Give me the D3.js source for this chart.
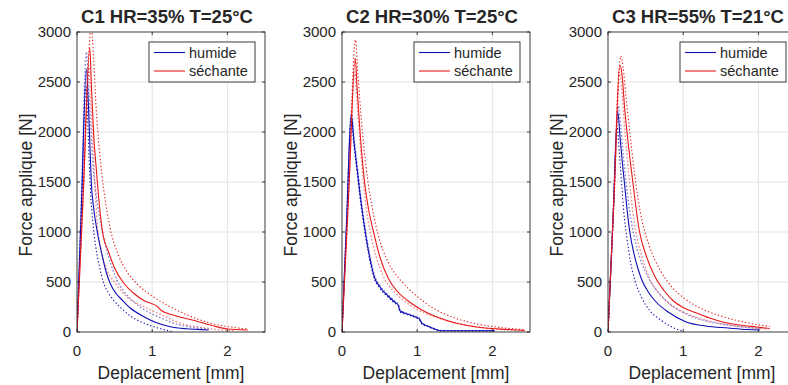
<!DOCTYPE html>
<html>
<head>
<meta charset="utf-8">
<script src="https://cdn.jsdelivr.net/npm/d3@7"></script>
<style>
  body { margin: 0; background: #fff; }
  svg { font-family: "Liberation Sans", Arial, sans-serif; }
  text { fill: #262626; }
</style>
</head>
<body>
<svg width="788" height="385"></svg>
<script>
'use strict';

// panel titles and tick labels
const titles = ['C1 HR=35% T=25°C', 'C2 HR=30% T=25°C', 'C3 HR=55% T=21°C'];
const x_ticks = [0, 1, 2];
const y_ticks = [0, 500, 1000, 1500, 2000, 2500, 3000];
const legend_labels = ['humide', 'séchante'];

// curves: [deplacement mm, force N]
const c1_humide = [[0,0],[0.06,1300],[0.124,2630],[0.15,2300],[0.17,1900],[0.19,1500],[0.22,1250],[0.27,1000],
  [0.33,780],[0.38,620],[0.44,487],[0.52,385],[0.6,320],[0.7,245],[0.89,153],[1.05,95],[1.24,53],[1.45,33],[1.6,26],[1.75,20]];
const c1_humide_hi = [[0,0],[0.06,1400],[0.125,2800],[0.15,2500],[0.18,2100],[0.21,1700],[0.25,1400],[0.3,1150],
  [0.37,900],[0.45,680],[0.53,520],[0.62,410],[0.73,320],[0.9,220],[1.09,150],[1.3,85],[1.51,50],[1.75,30]];
const c1_humide_lo = [[0,0],[0.06,1200],[0.12,2450],[0.14,2150],[0.16,1750],[0.18,1400],[0.21,1100],[0.25,850],
  [0.3,650],[0.35,500],[0.42,390],[0.49,315],[0.6,230],[0.73,150],[0.87,95],[1.02,53],[1.15,25],[1.29,0]];
const c1_sechante = [[0,0],[0.08,1330],[0.17,2840],[0.19,2500],[0.22,2000],[0.26,1600],[0.3,1250],[0.34,1000],
  [0.42,800],[0.5,640],[0.62,490],[0.75,390],[0.9,310],[1.07,253],[1.12,215],[1.3,165],[1.56,115],[1.8,65],[2.0,30],[2.27,20]];
const c1_sechante_hi = [[0,0],[0.095,1600],[0.19,3050],[0.22,2750],[0.25,2300],[0.3,1800],[0.36,1400],[0.44,1040],
  [0.55,770],[0.65,620],[0.8,480],[1.0,360],[1.24,253],[1.5,160],[1.78,87],[2.0,55],[2.27,30]];
const c1_sechante_lo = [[0,0],[0.08,1300],[0.16,2650],[0.18,2350],[0.21,1900],[0.24,1450],[0.27,1080],[0.32,820],
  [0.4,620],[0.51,487],[0.65,360],[0.89,253],[1.1,180],[1.38,87],[1.7,40],[2.1,10]];

const c2_humide = [[0,0],[0.06,1080],[0.123,2170],[0.16,1900],[0.2,1640],[0.24,1380],[0.28,1150],[0.31,1000],
  [0.35,820],[0.39,670],[0.43,550],[0.5,455],[0.62,355],[0.7,300],[0.75,268],[0.77,212],[0.9,172],[1.0,142],[1.03,130],
  [1.06,90],[1.15,55],[1.25,25],[1.3,13],[1.6,12],[2.03,12]];
const c2_humide_hi = [[0,0],[0.06,1100],[0.125,2200],[0.162,1930],[0.202,1670],[0.242,1410],[0.282,1175],[0.312,1025],
  [0.352,840],[0.392,690],[0.432,565],[0.502,468],[0.622,365],[0.702,310],[0.752,275],[0.772,220],[0.902,178],[1.002,147],
  [1.032,135],[1.062,95],[1.152,58],[1.252,28],[1.3,15],[1.6,13],[2.03,13]];
const c2_humide_lo = [[0,0],[0.06,1060],[0.121,2140],[0.158,1870],[0.198,1610],[0.238,1350],[0.278,1125],[0.308,975],
  [0.348,800],[0.388,650],[0.428,535],[0.498,442],[0.618,345],[0.698,290],[0.748,261],[0.768,204],[0.898,166],[0.998,137],
  [1.028,125],[1.058,85],[1.148,52],[1.248,22],[1.3,11],[1.6,11],[2.03,11]];
const c2_sechante = [[0,0],[0.09,1400],[0.176,2737],[0.2,2450],[0.24,2000],[0.3,1500],[0.36,1200],[0.42,1000],
  [0.5,760],[0.62,530],[0.72,420],[0.88,310],[0.99,253],[1.1,205],[1.3,140],[1.52,87],[1.7,60],[1.9,40],[2.2,25],[2.43,15]];
const c2_sechante_hi = [[0,0],[0.09,1500],[0.18,2920],[0.21,2600],[0.26,2100],[0.32,1650],[0.4,1250],[0.5,920],
  [0.6,720],[0.7,590],[0.8,500],[1.0,355],[1.2,245],[1.5,140],[1.8,80],[2.1,45],[2.43,25]];
const c2_sechante_lo = [[0,0],[0.085,1300],[0.17,2600],[0.2,2300],[0.24,1900],[0.29,1450],[0.35,1100],[0.42,850],
  [0.5,650],[0.56,540],[0.7,400],[0.85,300],[1.0,225],[1.2,160],[1.5,95],[1.8,50],[2.1,25],[2.4,12]];

const c3_humide = [[0,0],[0.065,1100],[0.13,2200],[0.16,1950],[0.19,1700],[0.22,1480],[0.25,1250],[0.29,1000],
  [0.34,800],[0.4,630],[0.45,520],[0.54,395],[0.64,300],[0.8,200],[1.04,100],[1.3,60],[1.6,40],[1.85,25],[2.02,20]];
const c3_humide_hi = [[0,0],[0.07,1150],[0.14,2260],[0.17,2050],[0.2,1800],[0.24,1500],[0.29,1200],[0.35,950],
  [0.42,750],[0.5,600],[0.56,510],[0.7,370],[0.85,265],[1.0,195],[1.3,110],[1.6,70],[1.85,45],[2.05,35]];
const c3_humide_lo = [[0,0],[0.06,1000],[0.12,2050],[0.15,1800],[0.18,1500],[0.21,1200],[0.25,950],[0.3,700],
  [0.36,510],[0.45,340],[0.55,220],[0.7,120],[0.85,50],[1.0,5]];
const c3_sechante = [[0,0],[0.08,1350],[0.156,2670],[0.19,2550],[0.22,2250],[0.26,1950],[0.33,1500],[0.42,1000],
  [0.5,780],[0.62,560],[0.75,410],[0.87,310],[1.0,245],[1.16,195],[1.35,140],[1.53,100],[1.75,70],[1.98,50],[2.15,35]];
const c3_sechante_hi = [[0,0],[0.085,1400],[0.17,2760],[0.2,2650],[0.24,2350],[0.29,2000],[0.35,1600],[0.45,1120],
  [0.55,860],[0.7,610],[0.85,450],[1.0,345],[1.2,250],[1.5,160],[1.8,100],[2.15,55]];
const c3_sechante_lo = [[0,0],[0.075,1300],[0.15,2600],[0.18,2450],[0.21,2150],[0.25,1800],[0.3,1400],[0.36,1050],
  [0.45,760],[0.55,540],[0.68,385],[0.8,290],[1.0,200],[1.2,140],[1.5,85],[1.8,50],[2.1,30]];

const panels = [
  {title: titles[0], humide: [c1_humide, c1_humide_hi, c1_humide_lo], sechante: [c1_sechante, c1_sechante_hi, c1_sechante_lo]},
  {title: titles[1], humide: [c2_humide, c2_humide_hi, c2_humide_lo], sechante: [c2_sechante, c2_sechante_hi, c2_sechante_lo]},
  {title: titles[2], humide: [c3_humide, c3_humide_hi, c3_humide_lo], sechante: [c3_sechante, c3_sechante_hi, c3_sechante_lo]}
];

const blue = '#0d0db4';
const red = '#e81818';
const axis_color = '#262626';

const svg = d3.select('svg');
const panel_left = [77, 342, 608];
const plot_w = 188;
const plot_top = 32, plot_bottom = 332;

panels.forEach((p, i) => {
  const x0 = panel_left[i];
  const x_scale = d3.scaleLinear().domain([0, 2.5]).range([x0, x0 + plot_w]);
  const y_scale = d3.scaleLinear().domain([0, 3000]).range([plot_bottom, plot_top]);
  const g = svg.append('g');

  //grid
  g.append('g').selectAll('line').data(x_ticks.slice(1)).enter().append('line')
    .attr('x1', d => x_scale(d)).attr('x2', d => x_scale(d))
    .attr('y1', plot_top).attr('y2', plot_bottom)
    .attr('stroke', '#e3e3e3').attr('stroke-width', 1);
  g.append('g').selectAll('line').data(y_ticks.slice(1, -1)).enter().append('line')
    .attr('x1', x0).attr('x2', x0 + plot_w)
    .attr('y1', d => y_scale(d)).attr('y2', d => y_scale(d))
    .attr('stroke', '#e3e3e3').attr('stroke-width', 1);

  //curves
  const clip_id = 'clip' + i;
  svg.append('clipPath').attr('id', clip_id).append('rect')
    .attr('x', x0).attr('y', plot_top).attr('width', plot_w).attr('height', plot_bottom - plot_top);
  const line = d3.line().x(d => x_scale(d[0])).y(d => y_scale(d[1])).curve(d3.curveMonotoneX);
  const curves = g.append('g').attr('clip-path', `url(#${clip_id})`);
  const draw = (data, color, dash, opacity, width) => {
    curves.append('path').datum(data)
      .attr('d', line)
      .attr('fill', 'none')
      .attr('stroke', color)
      .attr('stroke-width', width)
      .attr('stroke-dasharray', dash)
      .attr('opacity', opacity);
  };
  draw(p.humide[1], blue, '1.6,2', 0.5, 1.4);
  draw(p.humide[2], blue, '1.3,2.2', 1, 1.1);
  draw(p.sechante[1], red, '1.3,2.2', 1, 1.1);
  draw(p.sechante[2], red, '1.6,2', 0.5, 1.4);
  draw(p.humide[0], blue, null, 1, 1.1);
  draw(p.sechante[0], red, null, 1, 1.1);

  //axes, ticks inward on all sides
  const tick_len = 3;
  const ax = g.append('g').attr('stroke', axis_color).attr('stroke-width', 0.9);
  ax.append('rect').attr('x', x0).attr('y', plot_top).attr('width', plot_w).attr('height', plot_bottom - plot_top)
    .attr('fill', 'none');
  x_ticks.forEach(t => {
    ax.append('line').attr('x1', x_scale(t)).attr('x2', x_scale(t)).attr('y1', plot_bottom).attr('y2', plot_bottom - tick_len);
    ax.append('line').attr('x1', x_scale(t)).attr('x2', x_scale(t)).attr('y1', plot_top).attr('y2', plot_top + tick_len);
  });
  y_ticks.forEach(t => {
    ax.append('line').attr('x1', x0).attr('x2', x0 + tick_len).attr('y1', y_scale(t)).attr('y2', y_scale(t));
    ax.append('line').attr('x1', x0 + plot_w).attr('x2', x0 + plot_w - tick_len).attr('y1', y_scale(t)).attr('y2', y_scale(t));
  });

  //tick labels
  g.append('g').attr('font-size', 15).attr('text-anchor', 'middle')
    .selectAll('text').data(x_ticks).enter().append('text')
    .attr('x', d => x_scale(d)).attr('y', plot_bottom + 24).text(d => d);
  g.append('g').attr('font-size', 15).attr('text-anchor', 'end')
    .selectAll('text').data(y_ticks).enter().append('text')
    .attr('x', x0 - 6).attr('y', d => y_scale(d)).attr('dy', '0.35em').text(d => d);

  //titles and axis labels
  g.append('text').attr('x', x0 + plot_w / 2 - 4).attr('y', 23)
    .attr('text-anchor', 'middle').attr('font-size', 18.5).attr('font-weight', 'bold').text(p.title);
  g.append('text').attr('x', x0 + plot_w / 2).attr('y', 379)
    .attr('text-anchor', 'middle').attr('font-size', 17.5).text('Deplacement [mm]');
  g.append('text').attr('transform', `translate(${x0 - 45},${(plot_top + plot_bottom) / 2 + 3}) rotate(-90)`)
    .attr('text-anchor', 'middle').attr('font-size', 17.5).text('Force applique [N]');

  //legend
  const lg = g.append('g').attr('transform', `translate(${x0 + plot_w - 116},42)`);
  lg.append('rect').attr('width', 106).attr('height', 40).attr('fill', '#fff')
    .attr('stroke', axis_color).attr('stroke-width', 0.9);
  [blue, red].forEach((c, k) => {
    const yy = 10.5 + k * 18.5;
    lg.append('line').attr('x1', 5).attr('x2', 36).attr('y1', yy).attr('y2', yy)
      .attr('stroke', c).attr('stroke-width', 1.1);
    lg.append('text').attr('x', 40).attr('y', yy).attr('dy', '0.35em')
      .attr('font-size', 14.5).text(legend_labels[k]);
  });
});
</script>
</body>
</html>
